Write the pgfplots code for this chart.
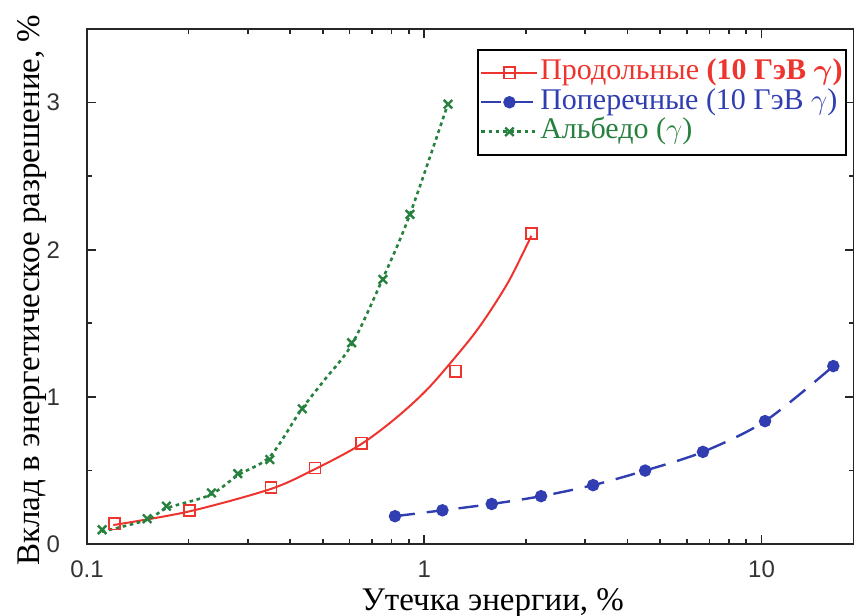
\documentclass[border=0pt]{standalone}
\usepackage{fontspec}
\setmainfont{Liberation Serif}
\newfontfamily\tickfont{Liberation Sans}
\usepackage{pgfplots}
\pgfplotsset{compat=1.18}
\usetikzlibrary{calc}
\definecolor{cred}{RGB}{238,52,46}
\definecolor{cblue}{RGB}{48,62,178}
\definecolor{cgreen}{RGB}{38,128,62}

\begin{document}
\begin{tikzpicture}
\begin{axis}[
 xmode=log, scale only axis, width=383.5pt, height=257.5pt,
 xmin=0.1, xmax=18.8, ymin=0, ymax=3.5,
 xtick={0.1,1,10}, xticklabels={0.1,1,10},
 minor xtick={0.2,0.3,0.4,0.5,0.6,0.7,0.8,0.9,2,3,4,5,6,7,8,9},
 ytick={0,1,2,3}, minor ytick={0.5,1.5,2.5},
 tick align=inside, major tick length=4.5pt, minor tick length=2.5pt,
 axis line style={black!85, line width=1pt},
 every tick/.style={black!85, line width=0.8pt},
 tick label style={font=\tickfont\fontsize{12}{14}\selectfont, text=black!80},
 /pgf/number format/assume math mode=true,
 yticklabel style={xshift=-10pt},
 xticklabel style={yshift=-5pt},
 xlabel={Утечка энергии, \%},
 ylabel={Вклад в энергетическое разрешение, \%},
 label style={font=\fontsize{16.5}{19}\selectfont},
 xlabel style={at={([yshift=-29.5pt]axis description cs:0.529,0)}, anchor=center},
 ylabel style={at={([xshift=-27.5pt]axis description cs:0,0.493)}, anchor=center},
 legend style={at={(axis description cs:1,1)}, anchor=north east, xshift=-3.5pt, yshift=-10pt,
   draw=black, line width=1pt, font=\fontsize{15}{14}\selectfont, inner xsep=1pt, inner ysep=4pt,
   nodes={inner sep=0.75pt, text height=10pt, text depth=3.25pt}},
 legend cell align=left,
 legend image code/.code={\draw[mark repeat=2,mark phase=2] plot coordinates {(0pt,0pt)(14pt,0pt)(28pt,0pt)};},
]
% red: curve
\addplot[cred, line width=1pt, smooth, no markers,
 legend image code/.code={\draw[cred,line width=1pt] (0pt,0pt)--(28pt,0pt);
   \draw plot[only marks, mark=square, mark size=2.8pt, mark options={solid,line width=0.8pt,fill=white,draw=cred}] coordinates {(14pt,0pt)};}]
 coordinates {(0.1197,0.129)(0.1996,0.220)(0.3486,0.372)(0.4686,0.503)(0.6444,0.673)(0.8279,0.86)(1.039,1.07)(1.365,1.39)(1.565,1.58)(1.794,1.80)(2.078,2.095)};
\addlegendentry{\textcolor{cred}{Продольные {\bfseries\mathversion{bold}(10 ГэВ $\gamma$)}}}
% blue
\addplot[cblue, line width=1.2pt, dash pattern=on 10pt off 6pt, smooth, mark=*, mark size=2.5pt, mark options={solid}]
 coordinates {(0.8187,0.189)(1.132,0.229)(1.585,0.272)(2.220,0.325)(3.167,0.400)(4.517,0.499)(6.70,0.626)(10.24,0.835)(16.32,1.209)};
\addlegendentry{\textcolor{cblue}{Поперечные (10 ГэВ $\gamma$)}}
% green: curve
\addplot[cgreen, line width=1.3pt, dash pattern=on 1.8pt off 1.8pt, smooth, no markers,
 legend image code/.code={\draw[cgreen,line width=1.3pt, dash pattern=on 1.8pt off 1.8pt] (0pt,0pt)--(28pt,0pt);
   \draw plot[only marks, mark=x, mark size=3pt, mark options={solid,line width=1.2pt,draw=cgreen}] coordinates {(14pt,0pt)};}]
 coordinates {(0.1106,0.084)(0.1503,0.163)(0.1722,0.243)(0.2315,0.333)(0.2808,0.469)(0.3486,0.594)(0.4279,0.900)(0.5014,1.104)(0.609,1.354)(0.7469,1.784)(0.9022,2.227)(1.169,2.975)};
\addlegendentry{\textcolor{cgreen}{Альбедо ($\gamma$)}}
% markers
\addplot[forget plot, only marks, mark=square, mark size=2.8pt, mark options={solid, line width=0.8pt, fill=white, draw=cred}]
 coordinates {(0.1208,0.138)(0.2013,0.229)(0.351,0.383)(0.474,0.517)(0.651,0.685)(1.237,1.175)(2.078,2.109)};
\addplot[forget plot, only marks, mark=x, mark size=3pt, mark options={solid, line width=1.2pt, draw=cgreen}]
 coordinates {(0.1109,0.097)(0.1508,0.172)(0.172,0.257)(0.2339,0.347)(0.280,0.478)(0.3484,0.574)(0.4348,0.919)(0.609,1.368)(0.754,1.798)(0.907,2.240)(1.176,2.989)};
\coordinate (bl) at (rel axis cs:0,0);
\coordinate (tr) at (rel axis cs:1,1);
\end{axis}
\pgfresetboundingbox
\path ($(bl)+(-43.5pt,-35.5pt)$) rectangle ($(tr)+(0pt,14.5pt)$);
\end{tikzpicture}
\end{document}
